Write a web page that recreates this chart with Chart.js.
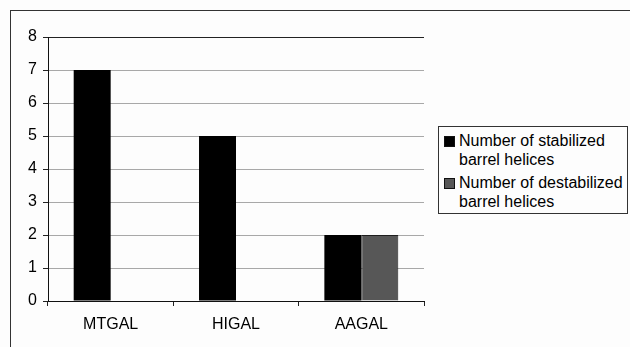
<!DOCTYPE html>
<html>
<head>
<meta charset="utf-8">
<script src="https://cdn.jsdelivr.net/npm/chart.js@4"></script>
<style>
  html, body { margin: 0; padding: 0; background: #fdfdfd; }
  #wrap { position: relative; width: 630px; height: 347px; overflow: hidden; }
  #frame { position: absolute; left: 10px; top: 10px; width: 700px; height: 400px;
           border-top: 1px solid #333; border-left: 1px solid #333; }
  #chartCanvas { position: absolute; left: 0; top: 0; }
  #legend { position: absolute; left: 438px; top: 126px; width: 188px; height: 86px;
            border: 1px solid #333; background: #fdfdfd;
            font-family: "Liberation Sans", Arial, sans-serif; font-size: 16px; color: #000; }
  .item { position: absolute; left: 5px; line-height: 19px; }
  .box { position: absolute; left: 0; top: 5px; width: 9px; height: 9px; border: 1px solid #111; }
  .txt { position: absolute; left: 15px; top: 0; white-space: nowrap; }
</style>
</head>
<body>
<div id="wrap">
  <div id="frame"></div>
  <canvas id="chartCanvas" width="630" height="347"></canvas>
  <div id="legend"></div>
</div>
<script>
const categories = ['MTGAL', 'HIGAL', 'AAGAL'];
const stabilized = [7, 5, 2];
const destabilized = [0, 0, 2];
const seriesNames = [
  ['Number of stabilized', 'barrel helices'],
  ['Number of destabilized', 'barrel helices']
];
const seriesColors = ['#000000', '#575757'];
const seriesBorders = ['#000000', '#1e1e1e'];

showChart();

function showChart()
{
    let ctx = document.getElementById('chartCanvas');
    let chartdata = {
        labels: categories,
        datasets: [
            {
                label: seriesNames[0].join(' '),
                backgroundColor: seriesColors[0],
                borderColor: seriesBorders[0],
                borderWidth: 0,
                data: stabilized
            },
            {
                label: seriesNames[1].join(' '),
                backgroundColor: seriesColors[1],
                borderColor: seriesBorders[1],
                borderWidth: 1,
                borderSkipped: 'bottom',
                data: destabilized
            }
        ]
    };

    new Chart(ctx, {
        type: 'bar',
        data: chartdata,
        options: {
            responsive: false,
            animation: false,
            events: [],
            layout: { padding: { left: 0, top: 37, right: 206, bottom: 0 } },
            plugins: { legend: { display: false }, tooltip: { enabled: false } },
            datasets: { bar: { categoryPercentage: 0.59, barPercentage: 1.0 } },
            scales: {
                x: {
                    afterFit: function (scale) { scale.height = 46; },
                    grid: {
                        offset: true,
                        color: c => c.index === 3 ? '#222' : 'rgba(0,0,0,0)',
                        tickColor: '#222',
                        tickLength: 5
                    },
                    border: { color: '#111', width: 1 },
                    ticks: {
                        color: '#000',
                        padding: 9,
                        font: { family: 'Liberation Sans', size: 16 }
                    }
                },
                y: {
                    min: 0,
                    max: 8,
                    afterFit: function (scale) { scale.width = 48; },
                    grid: {
                        color: c => c.tick && c.tick.value === 8 ? '#222' : '#a8a8a8',
                        tickColor: '#222',
                        tickLength: 5
                    },
                    border: { color: '#111', width: 1 },
                    ticks: {
                        stepSize: 1,
                        color: '#000',
                        padding: 6,
                        font: { family: 'Liberation Sans', size: 16 }
                    }
                }
            }
        }
    });

    // legend with two-line labels
    let legend = document.getElementById('legend');
    seriesNames.forEach(function (lines, i) {
        let item = document.createElement('div');
        item.className = 'item';
        item.style.top = (4 + i * 42) + 'px';
        item.innerHTML = '<div class="box" style="background:' + seriesColors[i] + '"></div>' +
            '<div class="txt">' + lines.join('<br>') + '</div>';
        legend.appendChild(item);
    });
}
</script>
</body>
</html>
